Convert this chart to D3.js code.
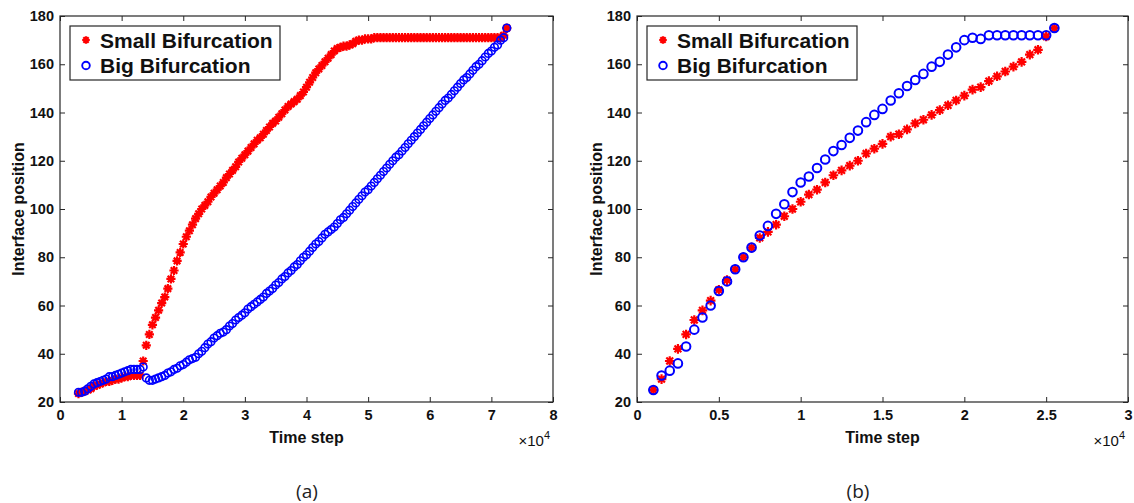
<!DOCTYPE html>
<html>
<head>
<meta charset="utf-8">
<script src="https://cdn.jsdelivr.net/npm/d3@7"></script>
<style>
  body { margin: 0; background: #fff; }
</style>
</head>
<body>
<div id="chart"></div>
<script>
// ---- data ----
// panel (a): time steps and interface positions
const stepsA = [
  3000, 3500, 4000, 4500, 5000, 5500, 6000, 6500, 7000, 7500,
  8000, 8500, 9000, 9500, 10000, 10500, 11000, 11500, 12000, 12500,
  13000, 13500, 14000, 14500, 15000, 15500, 16000, 16500, 17000, 17500,
  18000, 18500, 19000, 19500, 20000, 20500, 21000, 21500, 22000, 22500,
  23000, 23500, 24000, 24500, 25000, 25500, 26000, 26500, 27000, 27500,
  28000, 28500, 29000, 29500, 30000, 30500, 31000, 31500, 32000, 32500,
  33000, 33500, 34000, 34500, 35000, 35500, 36000, 36500, 37000, 37500,
  38000, 38500, 39000, 39500, 40000, 40500, 41000, 41500, 42000, 42500,
  43000, 43500, 44000, 44500, 45000, 45500, 46000, 46500, 47000, 47500,
  48000, 48500, 49000, 49500, 50000, 50500, 51000, 51500, 52000, 52500,
  53000, 53500, 54000, 54500, 55000, 55500, 56000, 56500, 57000, 57500,
  58000, 58500, 59000, 59500, 60000, 60500, 61000, 61500, 62000, 62500,
  63000, 63500, 64000, 64500, 65000, 65500, 66000, 66500, 67000, 67500,
  68000, 68500, 69000, 69500, 70000, 70500, 71000, 71500, 72000, 72500
];
const smallA = [
  23.5, 24, 24.5, 25, 25.5, 26.5, 27, 27.5, 28, 28.5,
  28.5, 29, 29.5, 29.5, 30, 30.5, 30.5, 31, 31, 31,
  31, 37, 43.5, 48, 52, 55, 58, 61, 63.5, 67,
  71, 74.5, 78.5, 82, 85.5, 88.5, 91, 93.5, 96, 98,
  100, 101.5, 103, 105, 106.5, 108, 109.5, 111, 113, 114.5,
  116, 117.5, 119.5, 121, 122.5, 124, 125.5, 127, 128.5, 129.5,
  131, 132.5, 134, 135.5, 136.5, 138, 139.5, 141, 142.5, 143.5,
  144.5, 145.5, 147, 148.5, 150.5, 152.5, 154.5, 156.5, 158, 159.5,
  161, 162.5, 164, 165.5, 166.5, 167, 167.5, 167.5, 168, 168.5,
  169.5, 170, 170, 170.5, 170.5, 170.5, 171, 171, 171, 171,
  171, 171, 171, 171, 171, 171, 171, 171, 171, 171,
  171, 171, 171, 171, 171, 171, 171, 171, 171, 171,
  171, 171, 171, 171, 171, 171, 171, 171, 171, 171,
  171, 171, 171, 171, 171, 171, 171, 171, 172, 175
];
const bigA = [
  24, 24, 24.5, 25.5, 26.5, 27.5, 28, 28.5, 29, 29.5,
  30.5, 30.5, 31, 31.5, 32, 32.5, 33, 33.5, 33.5, 33.5,
  33.5, 34.5, 30, 29, 29, 29.5, 30, 30.5, 31, 32,
  32.5, 33.5, 34, 35, 35.5, 36.5, 37.5, 38, 38.5, 40,
  41, 42.5, 44, 45, 46.5, 47.5, 48.5, 49, 50, 51.5,
  52.5, 54, 55, 56, 57, 58.5, 59.5, 60.5, 61.5, 62.5,
  63.5, 65, 66, 67, 68.5, 69.5, 71, 72, 73.5, 74.5,
  76, 77, 78.5, 80, 81, 82.5, 84, 85.5, 86.5, 88,
  89.5, 90.5, 91.5, 92.5, 94, 95.5, 96.5, 98, 99.5, 101,
  102.5, 104, 105.5, 107, 108, 109.5, 111, 112.5, 114, 115.5,
  117, 118.5, 120, 121.5, 122.5, 124, 125.5, 127, 128.5, 130,
  131.5, 133, 134.5, 136, 137.5, 139, 140.5, 142, 143.5, 145,
  146, 147.5, 149, 150.5, 152, 153.5, 154.5, 156, 157.5, 159,
  160, 161.5, 163, 164.5, 165.5, 167, 168, 170, 171, 175
];

// panel (b)
const stepsB = [
  1000, 1500, 2000, 2500, 3000, 3500, 4000, 4500, 5000, 5500,
  6000, 6500, 7000, 7500, 8000, 8500, 9000, 9500, 10000, 10500,
  11000, 11500, 12000, 12500, 13000, 13500, 14000, 14500, 15000, 15500,
  16000, 16500, 17000, 17500, 18000, 18500, 19000, 19500, 20000, 20500,
  21000, 21500, 22000, 22500, 23000, 23500, 24000, 24500, 25000, 25500
];
const smallB = [
  25, 29.5, 37, 42, 48, 54, 58, 62, 66.5, 70.5,
  75, 80, 84, 88, 90.5, 93.5, 97, 100, 103, 106,
  108, 111, 114, 116, 118, 120, 123, 125, 127, 130,
  131, 133, 135.5, 137, 139, 141, 143, 145, 147, 149.5,
  150.5, 153, 155, 157, 159, 161, 164, 166, 171.5, 175
];
const bigB = [
  25, 31, 33, 36, 43, 50, 55, 60, 66, 70,
  75, 80, 84, 89, 93, 98, 102, 107, 111, 113.5,
  117, 120.5, 124, 126.5, 129.5, 132.5, 136, 139, 141.5, 145,
  148, 151, 153.5, 156, 159, 161, 164, 167, 170, 171,
  170.5, 172, 172, 172, 172, 172, 172, 172, 172, 175
];

const ticksA = [0, 10000, 20000, 30000, 40000, 50000, 60000, 70000, 80000];
const ticksB = [0, 5000, 10000, 15000, 20000, 25000, 30000];
const yTicks = [20, 40, 60, 80, 100, 120, 140, 160, 180];
const seriesNames = ['Small Bifurcation', 'Big Bifurcation'];

// ---- drawing ----
const W = 1134, H = 503;
const font = '"Liberation Sans", Arial, Helvetica, sans-serif';
const ink = '#262626';

const svg = d3.select('#chart')
  .append('svg')
  .attr('width', W)
  .attr('height', H)
  .style('font-family', font);

// MATLAB '*' marker: plus and cross on top of each other
const starPath = (r) => {
  const d = r * 0.7071;
  return `M${-r},0H${r}M0,${-r}V${r}M${-d},${-d}L${d},${d}M${-d},${d}L${d},${-d}`;
};

const panels = [
  {left: 60, right: 553, xMax: 80000, ticks: ticksA, steps: stepsA,
   small: smallA, big: bigA, starR: 4.6, starW: 2.2, circR: 3.8, circW: 1.6,
   caption: '(a)', capX: 307, legX: 70, yLabX: 24},
  {left: 637, right: 1128, xMax: 30000, ticks: ticksB, steps: stepsB,
   small: smallB, big: bigB, starR: 4.8, starW: 2.2, circR: 4.3, circW: 2,
   caption: '(b)', capX: 858, legX: 647, yLabX: 602},
];
const plotTop = 16, plotBottom = 402;

panels.forEach((p) => {
  const x = d3.scaleLinear().domain([0, p.xMax]).range([p.left, p.right]);
  const y = d3.scaleLinear().domain([20, 180]).range([plotBottom, plotTop]);
  const g = svg.append('g');

  // axes with inward ticks on all four sides
  g.append('g')
    .attr('transform', `translate(0,${plotBottom})`)
    .call(d3.axisBottom(x).tickValues(p.ticks).tickSizeInner(-5).tickSizeOuter(0)
      .tickPadding(8).tickFormat((d) => d / 1e4));
  g.append('g')
    .attr('transform', `translate(0,${plotTop})`)
    .call(d3.axisTop(x).tickValues(p.ticks).tickSizeInner(-5).tickSizeOuter(0).tickFormat(''));
  g.append('g')
    .attr('transform', `translate(${p.left},0)`)
    .call(d3.axisLeft(y).tickValues(yTicks).tickSizeInner(-5).tickSizeOuter(0).tickPadding(6));
  g.append('g')
    .attr('transform', `translate(${p.right},0)`)
    .call(d3.axisRight(y).tickValues(yTicks).tickSizeInner(-5).tickSizeOuter(0).tickFormat(''));

  g.selectAll('.domain').remove();
  g.selectAll('.tick line').attr('stroke', ink);
  g.selectAll('.tick text')
    .attr('fill', '#111')
    .attr('font-family', font)
    .attr('font-weight', 'bold')
    .attr('font-size', 14.5);

  g.append('rect')
    .attr('x', p.left).attr('y', plotTop)
    .attr('width', p.right - p.left).attr('height', plotBottom - plotTop)
    .attr('fill', 'none').attr('stroke', ink).attr('stroke-width', 1.2);

  // series
  const small = p.steps.map((s, i) => ({s, v: p.small[i]}));
  const big = p.steps.map((s, i) => ({s, v: p.big[i]}));

  g.append('g').selectAll('path').data(small).join('path')
    .attr('transform', (d) => `translate(${x(d.s)},${y(d.v)})`)
    .attr('d', starPath(p.starR))
    .attr('stroke', '#ff0000')
    .attr('stroke-width', p.starW)
    .attr('fill', 'none');

  g.append('g').selectAll('circle').data(big).join('circle')
    .attr('cx', (d) => x(d.s))
    .attr('cy', (d) => y(d.v))
    .attr('r', p.circR)
    .attr('fill', 'none')
    .attr('stroke', '#0000ff')
    .attr('stroke-width', p.circW);

  // labels
  g.append('text')
    .attr('x', (p.left + p.right) / 2).attr('y', 443)
    .attr('text-anchor', 'middle')
    .attr('font-weight', 'bold').attr('font-size', 16).attr('fill', '#111')
    .text('Time step');

  const mult = g.append('text')
    .attr('x', p.right - 3).attr('y', 446)
    .attr('text-anchor', 'end')
    .attr('font-size', 15).attr('fill', '#111');
  mult.append('tspan').text('\u00d710');
  mult.append('tspan').attr('dy', -7).attr('font-size', 11).text('4');

  g.append('text')
    .attr('transform', `translate(${p.yLabX},${(plotTop + plotBottom) / 2}) rotate(-90)`)
    .attr('text-anchor', 'middle')
    .attr('font-weight', 'bold').attr('font-size', 16).attr('fill', '#111')
    .text('Interface position');

  g.append('text')
    .attr('x', p.capX).attr('y', 498)
    .attr('text-anchor', 'middle')
    .attr('font-family', '"Open Sans", sans-serif')
    .attr('font-size', 19).attr('fill', '#222')
    .text(p.caption);

  // legend
  const lg = g.append('g').attr('transform', `translate(${p.legX},26)`);
  lg.append('rect')
    .attr('width', 210).attr('height', 54)
    .attr('fill', '#fff').attr('stroke', ink).attr('stroke-width', 1.2);
  lg.append('path')
    .attr('transform', 'translate(16,14)')
    .attr('d', starPath(3.8))
    .attr('stroke', '#ff0000').attr('stroke-width', 2.2).attr('fill', 'none');
  lg.append('circle')
    .attr('cx', 16).attr('cy', 39.5).attr('r', 3.8)
    .attr('fill', 'none').attr('stroke', '#0000ff').attr('stroke-width', 1.9);
  lg.selectAll('text.leg').data(seriesNames).join('text')
    .attr('class', 'leg')
    .attr('x', 30)
    .attr('y', (d, i) => 22 + i * 24.5)
    .attr('font-weight', 'bold').attr('font-size', 21).attr('fill', '#111')
    .text((d) => d);
});
</script>
</body>
</html>
